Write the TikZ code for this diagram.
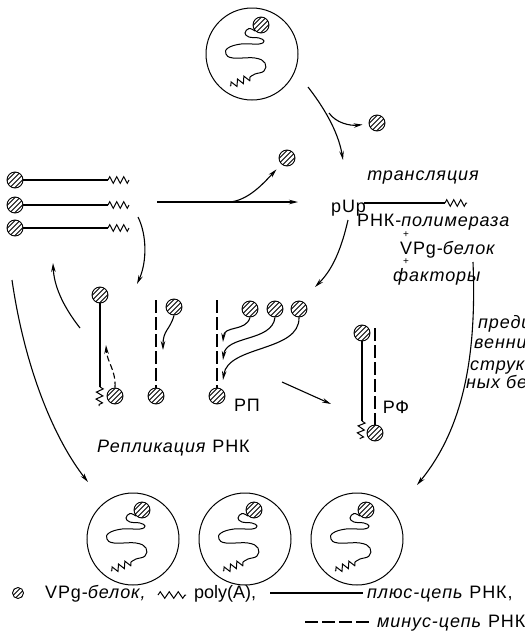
\documentclass[tikz,border=0pt]{standalone}
\usepackage{fontspec}
\setmainfont{Liberation Sans}[LetterSpace=5]
\usetikzlibrary{arrows.meta,decorations.pathmorphing}

\tikzset{
  % hatched VPg protein ball
  ball/.style={circle, draw, line width=0.9pt, minimum size=#1, inner sep=0pt,
    path picture={\foreach \k in {-7.5,-2.5,2.5,7.5}
      \draw[line width=0.9pt] ([xshift=\k pt]path picture bounding box.center)
        ++(-10pt,-10pt) -- ++(20pt,20pt);}},
  ball/.default=16pt,
  plusrna/.style={line width=1.8pt},
  minusrna/.style={line width=1.4pt, dash pattern=on 13pt off 4pt},
  flow/.style={line width=1.1pt, -{Stealth[length=9pt,width=4.5pt]}},
  dflow/.style={flow, dash pattern=on 6pt off 3pt},
  polya/.style={line width=1pt, decorate,
    decoration={zigzag, segment length=#1, amplitude=3.3pt}},
  polya/.default=7pt,
  txt/.style={inner sep=0pt, font=\fontsize{18}{20}\selectfont},
  itxt/.style={txt, font=\fontsize{18}{20}\selectfont\itshape},
  plus/.style={inner sep=0pt, font=\fontsize{10}{10}\selectfont},
  virion/.pic={
    \node[circle, draw, line width=1pt, minimum size=92pt, inner sep=0pt] (-shell) at (0,0) {};
    \node[ball] (-cap) at (9,-29) {};
    \draw[line width=1pt] plot[smooth, tension=0.7] coordinates
      {(3,-23) (-3,-25.5) (-7,-21) (-3,-17) (7,-16) (12,-13) (7,-10) (-11,-10)
       (-24,-6) (-26,0) (-19,4) (3,4) (13,9) (12,17) (3,20) (-2,23)};
    \draw[polya] (-2,23) -- (-22,32);
  }
}

\begin{document}
\begin{tikzpicture}[x=1pt, y=-1pt]
\useasboundingbox (0,0) rectangle (525,641);
\clip (0,0) rectangle (525,641);

% ---------- incoming virion and release of VPg ----------
\pic (vtop) at (252,54) {virion};
\node[ball] (fb1) at (377,123) {};
\node[ball] (fb2) at (287,158) {};
\coordinate (t0) at (308,87);
\coordinate (t1) at (343,160);
\coordinate (tsplit) at (329,113);
\draw[flow] (t0) .. controls (322,105) and (338,130) .. (t1);
\draw[flow, shorten >=6pt] (tsplit) .. controls (336,123) and (350,126) .. (fb1);

% ---------- three plus strands at the left ----------
\node[ball] (s1) at (15,180) {};
\node[ball] (s2) at (15,205) {};
\node[ball] (s3) at (15,228) {};
\foreach \s/\y in {s1/180, s2/205, s3/228}{
  \draw[plusrna] (\s.east) -- (108,\y);
  \draw[polya] (108,\y) -- (129,\y);
}

% horizontal arrow with VPg removal
\coordinate (h0) at (157,202);
\coordinate (h1) at (298,202);
\coordinate (hsplit) at (230,202);
\draw[flow] (h0) -- (h1);
\draw[flow, shorten >=7pt] (hsplit) .. controls (248,200) and (262,185) .. (fb2);

% ---------- translation ----------
\node[itxt, anchor=base] (transl) at (423,180) {трансляция};
\node[txt, anchor=base west] (pup) at (331,212) {pUp};
\coordinate (m0) at (364,203);
\coordinate (m1) at (445,203);
\coordinate (m2) at (467,203);
\draw[plusrna] (m0) -- (m1);
\draw[polya] (m1) -- (m2);
\node[txt, anchor=base west] (pol) at (357,226) {РНК-\textit{полимераза}};
\node[plus] (pl1) at (406,234.5) {+};
\node[txt, anchor=base west] (vpg) at (400,254) {VPg-\textit{белок}};
\node[plus] (pl2) at (406,262) {+};
\node[itxt, anchor=base west] (fact) at (393,281) {факторы};

% precursors of structural proteins
\node[itxt, anchor=base west] (pr1) at (478,328) {предшест-};
\node[itxt, anchor=base west] (pr2) at (474,348) {венники};
\node[itxt, anchor=base west] (pr3) at (470,370) {структур-};
\node[itxt, anchor=base west] (pr4) at (466,388) {ных белков};

% ---------- connecting arrows ----------
\coordinate (a0) at (138,217);
\coordinate (a1) at (137,284);
\draw[flow] (a0) .. controls (147,235) and (147,262) .. (a1);
\coordinate (b0) at (12,280);
\coordinate (b1) at (88,482);
\draw[flow] (b0) .. controls (25,370) and (55,440) .. (b1);
\coordinate (c0) at (80,328);
\coordinate (c1) at (53,263);
\draw[flow] (c0) .. controls (62,305) and (54,285) .. (c1);
\coordinate (d0) at (348,220);
\coordinate (d1) at (315,287);
\draw[flow] (d0) .. controls (340,255) and (330,272) .. (d1);
\coordinate (e0) at (473,262);
\coordinate (e1) at (417,485);
\draw[flow] (e0) .. controls (477,360) and (462,430) .. (e1);

% ---------- replication ----------
% plus strand with minus-strand initiation
\node[ball] (r1) at (100,295) {};
\coordinate (r1end) at (100,387);
\draw[plusrna] (r1.south) -- (r1end);
\draw[polya] (r1end) -- (99,406);
\node[ball] (r1b) at (115,396) {};
\coordinate (r1tip) at (106,345);
\draw[dflow] (r1b.north) .. controls (116,370) and (107,362) .. (r1tip);

% minus strand with plus-strand initiation
\node[ball] (r2a) at (174,307) {};
\node[ball] (r2b) at (156,396) {};
\coordinate (r2top) at (156,300);
\draw[minusrna] (r2top) -- (r2b.north);
\coordinate (r2tip) at (163,350);
\draw[flow] (r2a.south) .. controls (170,330) and (163,330) .. (r2tip);

% replicative intermediate
\node[ball] (r3b) at (217,396) {};
\coordinate (r3top) at (217,300);
\draw[minusrna] (r3top) -- (r3b.north);
\node[ball] (pa) at (250,309) {};
\node[ball] (pb) at (275,309) {};
\node[ball] (pc) at (299,309) {};
\coordinate (pat) at (223,342);
\coordinate (pbt) at (223,360);
\coordinate (pct) at (223,380);
\draw[flow] (pa.south) .. controls (246,332) and (224,325) .. (pat);
\draw[flow] (pb.south) .. controls (272,342) and (226,335) .. (pbt);
\draw[flow] (pc.south) .. controls (300,352) and (228,345) .. (pct);
\node[txt, anchor=base] (rp) at (247,411) {РП};

\coordinate (f0) at (282,382);
\coordinate (f1) at (331,404);
\draw[flow] (f0) -- (f1);

% replicative form
\node[ball] (rf) at (362,333) {};
\coordinate (rfend) at (362,421);
\draw[plusrna] (rf.south) -- (rfend);
\draw[polya] (rfend) -- (360,439);
\node[ball] (rfb) at (375,433) {};
\coordinate (rftop) at (375,328);
\draw[minusrna] (rftop) -- (rfb.north);
\node[txt, anchor=base] (rfl) at (396,413) {РФ};

\node[txt, anchor=base west] (repl) at (97,452) {\textit{Репликация} РНК};

% ---------- progeny virions ----------
\pic (v1) at (133,539) {virion};
\pic (v2) at (245,539) {virion};
\pic (v3) at (357,539) {virion};

% ---------- legend ----------
\node[ball=11pt] (lb) at (18,593) {};
\node[txt, anchor=base west] (lvpg) at (45,598) {VPg-\textit{белок,}};
\coordinate (lz0) at (158,595);
\coordinate (lz1) at (186,595);
\draw[polya=9pt] (lz0) -- (lz1);
\node[txt, anchor=base west] (lpoly) at (194,598) {\addfontfeature{LetterSpace=0}poly(A),};
\coordinate (lp0) at (270,593);
\coordinate (lp1) at (363,593);
\draw[line width=1.4pt] (lp0) -- (lp1);
\node[txt, anchor=base west] (lplus) at (367,598) {\textit{плюс-цепь} РНК,};
\coordinate (lm0) at (305,622);
\coordinate (lm1) at (372,622);
\draw[line width=1.4pt, dash pattern=on 13pt off 4pt] (lm0) -- (lm1);
\node[txt, anchor=base west] (lminus) at (377,627) {\textit{минус-цепь} РНК};
\end{tikzpicture}
\end{document}
